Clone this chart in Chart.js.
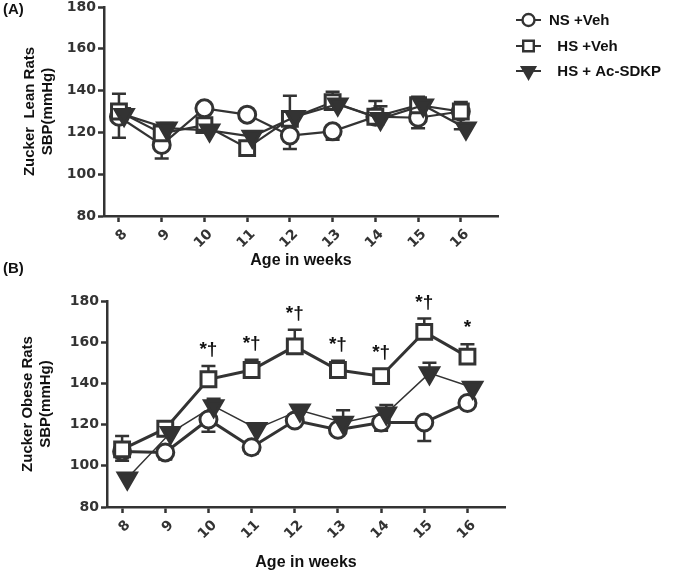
<!DOCTYPE html>
<html>
<head>
<meta charset="utf-8">
<script src="https://cdn.jsdelivr.net/npm/chart.js@4/dist/chart.umd.min.js"></script>
<style>
  body { margin: 0; background: #fff; }
  #wrap { position: relative; width: 688px; height: 575px; overflow: hidden; }
  canvas { position: absolute; left: 0; }
  .panel { position: absolute; left: 3px; font: bold 15px "Liberation Sans", Arial, sans-serif; color: #111; }
</style>
</head>
<body>
<div id="wrap">
  <canvas id="leanChart" width="688" height="280" style="top:0"></canvas>
  <canvas id="obeseChart" width="688" height="295" style="top:280px"></canvas>
  <div class="panel" style="top:0px">(A)</div>
  <div class="panel" style="top:259px">(B)</div>
</div>
<script>
// weeks of age
const weeks = [8, 9, 10, 11, 12, 13, 14, 15, 16];
const seriesLabels = ['NS +Veh', '  HS +Veh', '  HS + Ac-SDKP'];

// (A) Zucker lean rats, SBP mmHg (mean, one-sided error)
const leanNS = [127.5, 114, 131.5, 128.5, 118.5, 120.5, 127.5, 127, 130];
const leanNSErr = [10, 6.5, 0, 0, 6.5, 4, 0, 5, 8.5];
const leanHS = [130, 119.5, 123.5, 112.5, 126.5, 134.5, 127.5, 133, 130];
const leanHSErr = [8.5, 0, 3, 0, 11, 5, 7.5, 4, 4.5];
const leanAc = [128.5, 122, 121, 118, 127.5, 133.5, 126.5, 133, 122];
const leanAcErr = [3, 2.5, 0, 0, 0, 0, 6, 2, 0];

// (B) Zucker obese rats
const obeseNS = [107, 106.5, 122.5, 109, 122, 117.5, 121, 121, 130.5];
const obeseNSErr = [4.5, 3.5, 6, 3, 2.5, 0, 4, 9, 0];
const obeseHS = [108, 118, 142, 146.5, 158, 146.5, 143.5, 165, 153];
const obeseHSErr = [6.5, 3, 6.5, 5, 8, 4.5, 0, 6.5, 6];
const obeseAc = [94, 116, 129, 118, 127, 121, 125.5, 145, 138];
const obeseAcErr = [0, 0, 3.5, 0, 0, 6, 4, 5, 0];
const obeseMarks = ['', '', '*\u2020', '*\u2020', '*\u2020', '*\u2020', '*\u2020', '*\u2020', '*'];

const yTicks = [80, 100, 120, 140, 160, 180];

const ink = '#333';
const tickFont = { family: 'DejaVu Sans', size: 14, weight: 'bold' };
const titleFont = { family: 'Liberation Sans', size: 16, weight: 'bold' };
const yTitleFont = { family: 'Liberation Sans', size: 15, weight: 'bold' };

// marker styles per series: circle open, square open, triangle down filled
const styles = [
  { pointStyle: 'circle', pointRadius: 8.5, rotation: 0, bg: '#fff', nudge: 0, errDir: -1 },
  { pointStyle: 'rect', pointRadius: 10.5, rotation: 0, bg: '#fff', nudge: 0, errDir: 1 },
  { pointStyle: 'triangle', pointRadius: 10.5, rotation: 180, bg: ink, nudge: 0.12, errDir: 1 }
];

function makeSet(i, values, errs, lineW) {
  const s = styles[i];
  return {
    label: seriesLabels[i],
    data: values.map((v, k) => ({ x: weeks[k] + s.nudge, y: v })),
    errs: errs,
    errDir: s.errDir,
    borderColor: ink,
    borderWidth: lineW,
    pointStyle: s.pointStyle,
    pointRadius: s.pointRadius,
    pointRotation: s.rotation,
    pointBackgroundColor: s.bg,
    pointBorderColor: ink,
    pointBorderWidth: 3,
    tension: 0,
    clip: false,
    order: 2 - i
  };
}

// one-sided SEM bars with caps
const errorBars = {
  id: 'errorBars',
  beforeDatasetsDraw(chart) {
    const ctx = chart.ctx;
    const ys = chart.scales.y;
    ctx.save();
    ctx.strokeStyle = ink;
    ctx.lineWidth = 2.5;
    chart.data.datasets.forEach((ds, di) => {
      const meta = chart.getDatasetMeta(di);
      meta.data.forEach((pt, k) => {
        const e = ds.errs[k];
        if (!e) return;
        const v = ds.data[k].y;
        const y1 = ys.getPixelForValue(v + ds.errDir * e);
        ctx.beginPath();
        ctx.moveTo(pt.x, pt.y);
        ctx.lineTo(pt.x, y1);
        ctx.moveTo(pt.x - 7, y1);
        ctx.lineTo(pt.x + 7, y1);
        ctx.stroke();
      });
    });
    ctx.restore();
  }
};

// legend with a short line through each marker
const sideLegend = {
  id: 'sideLegend',
  afterDraw(chart) {
    const ctx = chart.ctx;
    const rows = [20, 46, 71];
    const legendStyles = [
      { pointStyle: 'circle', radius: 6, rotation: 0 },
      { pointStyle: 'rect', radius: 7.5, rotation: 0 },
      { pointStyle: 'triangle', radius: 7.5, rotation: 180 }
    ];
    ctx.save();
    chart.data.datasets.forEach((ds, i) => {
      const y = rows[i];
      ctx.strokeStyle = ink;
      ctx.lineWidth = 2;
      ctx.beginPath();
      ctx.moveTo(516, y);
      ctx.lineTo(541, y);
      ctx.stroke();
      ctx.fillStyle = i === 2 ? ink : '#fff';
      ctx.lineWidth = 2.4;
      Chart.helpers.drawPoint(ctx, Object.assign({ borderWidth: 2.4 }, legendStyles[i]), 528.5, y);
      ctx.fillStyle = '#111';
      ctx.font = 'bold 15px "Liberation Sans", Arial, sans-serif';
      ctx.textBaseline = 'middle';
      ctx.fillText(ds.label, 549, y + 1);
    });
    ctx.restore();
  }
};

// significance marks above HS +Veh
const sigMarks = {
  id: 'sigMarks',
  afterDatasetsDraw(chart) {
    const ctx = chart.ctx;
    const xs = chart.scales.x, ys = chart.scales.y;
    ctx.save();
    ctx.fillStyle = '#111';
    ctx.font = 'bold 19px "Liberation Sans", Arial, sans-serif';
    ctx.textAlign = 'center';
    ctx.textBaseline = 'alphabetic';
    obeseMarks.forEach((m, k) => {
      if (!m) return;
      const top = Math.min(ys.getPixelForValue(obeseHS[k] + obeseHSErr[k]), ys.getPixelForValue(obeseHS[k]) - 7);
      ctx.fillText(m, xs.getPixelForValue(weeks[k]), top - 11);
    });
    ctx.restore();
  }
};

function makeOptions(pad, yWidth, xHeight, yTitle, yTitlePad, xTitlePad) {
  return {
    responsive: false,
    animation: false,
    events: [],
    layout: { padding: pad, autoPadding: false },
    plugins: { legend: { display: false }, tooltip: { enabled: false } },
    scales: {
      x: {
        type: 'linear',
        min: 7.65,
        max: 16.87,
        afterBuildTicks: s => { s.ticks = weeks.map(v => ({ value: v })); },
        afterFit: s => { s.height = xHeight; },
        grid: { drawOnChartArea: false, drawTicks: true, tickLength: 6, tickWidth: 2.5, tickColor: ink },
        border: { display: true, width: 2.5, color: ink },
        ticks: { minRotation: 45, maxRotation: 45, autoSkip: false, font: tickFont, color: ink, padding: 4, labelOffset: 6 },
        title: { display: true, text: 'Age in weeks', font: titleFont, color: '#111', padding: { top: 0, bottom: xTitlePad } }
      },
      y: {
        min: 80,
        max: 180,
        afterBuildTicks: s => { s.ticks = yTicks.map(v => ({ value: v })); },
        afterFit: s => { s.width = yWidth; s.paddingTop = 0; s.paddingBottom = 0; },
        grid: { drawOnChartArea: false, drawTicks: true, tickLength: 6, tickWidth: 2.5, tickColor: ink },
        border: { display: true, width: 2.5, color: ink },
        ticks: { font: tickFont, color: ink, padding: 2 },
        title: { display: true, text: yTitle, font: yTitleFont, color: '#111', padding: { top: yTitlePad, bottom: 0 } }
      }
    }
  };
}

new Chart(document.getElementById('leanChart').getContext('2d'), {
  type: 'line',
  data: {
    datasets: [
      makeSet(0, leanNS, leanNSErr, 2.2),
      makeSet(1, leanHS, leanHSErr, 2.2),
      makeSet(2, leanAc, leanAcErr, 2.2)
    ]
  },
  options: makeOptions({ left: 0, right: 190, top: 7, bottom: 0 }, 104, 64,
    ['Zucker  Lean Rats', 'SBP(mmHg)'], 21, 10),
  plugins: [errorBars, sideLegend]
});

new Chart(document.getElementById('obeseChart').getContext('2d'), {
  type: 'line',
  data: {
    datasets: [
      makeSet(0, obeseNS, obeseNSErr, 3),
      makeSet(1, obeseHS, obeseHSErr, 3),
      makeSet(2, obeseAc, obeseAcErr, 1.5)
    ]
  },
  options: makeOptions({ left: 0, right: 183, top: 21, bottom: 0 }, 107, 68,
    ['Zucker Obese Rats', 'SBP(mmHg)'], 19, 3),
  plugins: [errorBars, sigMarks]
});
</script>
</body>
</html>
